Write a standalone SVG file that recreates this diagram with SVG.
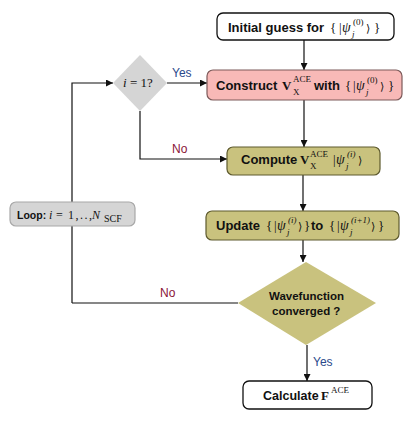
<svg xmlns="http://www.w3.org/2000/svg" width="415" height="424" viewBox="0 0 415 424">
<defs>
<style>
.w{fill:#ffffff;stroke:#111;stroke-width:1.3}
.pk{fill:#f8b9b7;stroke:#7d5a5a;stroke-width:1.2}
.ol{fill:#c9c27e;stroke:#5e5a2e;stroke-width:1.2}
.gr{fill:#d5d5d5;stroke:#a8a8a8;stroke-width:1.2}
.gd{fill:#d5d5d5;stroke:none}
.od{fill:#c9c27e;stroke:none}
.t{font-family:"Liberation Sans",Arial,sans-serif;font-weight:bold;font-size:13px;fill:#111}
.m{font-family:"Liberation Serif","DejaVu Serif",serif;font-size:13px;fill:#111}
.mi{font-family:"Liberation Serif","DejaVu Serif",serif;font-style:italic;font-size:13px;fill:#111}
.psi{font-family:"Liberation Serif","DejaVu Serif",serif;font-style:italic;font-size:14px;fill:#111}
.ms{font-family:"Liberation Serif","DejaVu Serif",serif;font-size:9px;fill:#111}
.msi{font-family:"Liberation Serif","DejaVu Serif",serif;font-style:italic;font-size:9px;fill:#111}
.mb{font-family:"Liberation Serif","DejaVu Serif",serif;font-weight:bold;font-size:13px;fill:#111}
.ang{font-family:"DejaVu Serif",serif;font-size:11px;fill:#111}
.yes{font-family:"Liberation Sans",Arial,sans-serif;font-size:12px;fill:#2b4a8b}
.no{font-family:"Liberation Sans",Arial,sans-serif;font-size:12px;fill:#8a1638}
.c{fill:none;stroke:#111;stroke-width:1.2}
</style>
<marker id="ah" viewBox="0 0 10 10" refX="10" refY="5" markerWidth="7" markerHeight="7" markerUnits="userSpaceOnUse" orient="auto">
<path d="M0,0 L10,5 L0,10 z" fill="#111"/>
</marker>
</defs>

<g id="connectors">
<path class="c" d="M304,40 V70" marker-end="url(#ah)"/>
<path class="c" d="M72,303 V83 H113" marker-end="url(#ah)"/>
<path class="c" d="M167,83 H207" marker-end="url(#ah)"/>
<path class="c" d="M140,111 V159 H227" marker-end="url(#ah)"/>
<path class="c" d="M304,100 V147" marker-end="url(#ah)"/>
<path class="c" d="M303,175 V211" marker-end="url(#ah)"/>
<path class="c" d="M303,240 V262" marker-end="url(#ah)"/>
<path class="c" d="M238,303 H72"/>
<path class="c" d="M307,345 V381" marker-end="url(#ah)"/>
<text class="yes" x="172" y="77">Yes</text>
<text class="no" x="172" y="153">No</text>
<text class="no" x="160" y="297">No</text>
<text class="yes" x="313" y="366">Yes</text>
</g>

<g id="initial">
<rect class="w" x="217" y="13" width="177" height="27" rx="6"/>
<text class="t" x="228" y="32">Initial guess for</text>
<text class="m" x="330" y="32">{</text>
<text class="m" x="339" y="32">|</text>
<text class="psi" x="342" y="32">ψ</text>
<text class="ms" x="353" y="25">(0)</text>
<text class="msi" x="352" y="37">j</text>
<text class="ang" x="366" y="32">⟩</text>
<text class="m" x="374" y="32">}</text>
</g>

<g id="construct">
<rect class="pk" x="207" y="70" width="195" height="30" rx="6"/>
<text class="t" x="216" y="90">Construct</text>
<text class="mb" x="282" y="90">V</text>
<text class="ms" x="293" y="82">ACE</text>
<text class="ms" x="293" y="95">X</text>
<text class="t" x="314" y="90">with</text>
<text class="m" x="345" y="90">{</text>
<text class="m" x="353" y="90">|</text>
<text class="psi" x="356" y="90">ψ</text>
<text class="ms" x="367" y="83">(0)</text>
<text class="msi" x="366" y="95">j</text>
<text class="ang" x="380" y="90">⟩</text>
<text class="m" x="388" y="90">}</text>
</g>

<g id="decision-i1">
<polygon class="gd" points="140,55 167,83 140,111 113,83"/>
<text class="mi" x="123" y="87">i</text>
<text class="m" x="130" y="87">= 1?</text>
</g>

<g id="compute">
<rect class="ol" x="227" y="147" width="153" height="28" rx="6"/>
<text class="t" x="241" y="164">Compute</text>
<text class="mb" x="300" y="164">V</text>
<text class="ms" x="310" y="157">ACE</text>
<text class="ms" x="310" y="169">X</text>
<text class="m" x="333" y="164">|</text>
<text class="psi" x="336" y="164">ψ</text>
<text class="msi" x="347" y="157">(i)</text>
<text class="msi" x="346" y="169">j</text>
<text class="ang" x="358" y="164">⟩</text>
</g>

<g id="update">
<rect class="ol" x="206" y="211" width="193" height="29" rx="6"/>
<text class="t" x="216" y="230">Update</text>
<text class="m" x="266" y="230">{</text>
<text class="m" x="274" y="230">|</text>
<text class="psi" x="277" y="230">ψ</text>
<text class="msi" x="288" y="223">(i)</text>
<text class="msi" x="287" y="235">j</text>
<text class="ang" x="298" y="230">⟩</text>
<text class="m" x="304" y="230">}</text>
<text class="t" x="311" y="230">to</text>
<text class="m" x="329" y="230">{</text>
<text class="m" x="337" y="230">|</text>
<text class="psi" x="340" y="230">ψ</text>
<text class="msi" x="351" y="223">(i+1)</text>
<text class="msi" x="350" y="235">j</text>
<text class="ang" x="371" y="230">⟩</text>
<text class="m" x="378" y="230">}</text>
</g>

<g id="loop">
<rect class="gr" x="10" y="202" width="125" height="24" rx="6"/>
<text class="t" x="17" y="219" style="font-size:10.5px">Loop:</text>
<text class="mi" x="49" y="219" style="font-size:12px">i</text>
<text class="m" x="56" y="219" style="font-size:12px">=</text>
<text class="m" x="68" y="219" style="font-size:12px;letter-spacing:1.5px">1,..,</text>
<text class="mi" x="92" y="219" style="font-size:12px">N</text>
<text class="ms" x="104" y="222" style="font-size:10px">SCF</text>
</g>

<g id="converged">
<polygon class="od" points="306,262 376,303 306,345 238,303"/>
<text class="t" x="269" y="300" style="font-size:11.5px">Wavefunction</text>
<text class="t" x="272" y="315" style="font-size:11.5px">converged  ?</text>
</g>

<g id="calculate">
<rect class="w" x="243" y="381" width="129" height="28" rx="6"/>
<text class="t" x="263" y="400" style="font-size:12.5px">Calculate</text>
<text class="mb" x="321" y="400">F</text>
<text class="ms" x="331" y="393">ACE</text>
</g>
</svg>
